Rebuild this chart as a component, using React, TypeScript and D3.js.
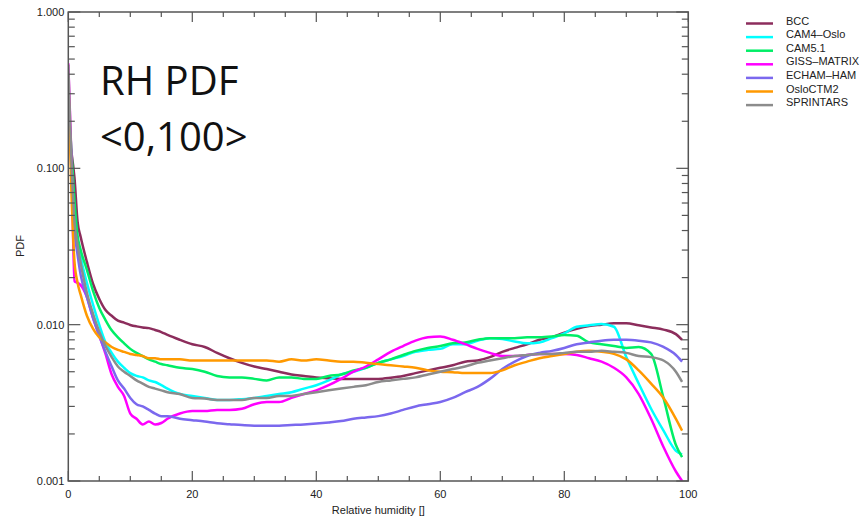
import React from "react";
import * as d3 from "d3";

// Relative humidity grid (x values)
const RH = [0, 0.5, 1, 1.5, 2, 3, 4, 5, 6, 7, 8, 9, 10, 11, 12, 13, 14, 15, 16, 18, 20, 22, 24, 26, 28, 30, 32, 34, 36, 38, 40, 42, 44, 46, 48, 50, 52, 54, 56, 58, 60, 62, 64, 66, 68, 70, 72, 74, 76, 78, 80, 82, 84, 86, 88, 90, 92, 94, 96, 98, 99];

const BCC = [0.165, 0.127, 0.0868, 0.0454, 0.0364, 0.0252, 0.0182, 0.0146, 0.0124, 0.0114, 0.0106, 0.0103, 0.00996, 0.00975, 0.0096, 0.0095, 0.00924, 0.00897, 0.0086, 0.008, 0.0075, 0.0072, 0.0066, 0.0061, 0.0057, 0.0054, 0.0052, 0.005, 0.0048, 0.0047, 0.0046, 0.00455, 0.0045, 0.00449, 0.00449, 0.0045, 0.00458, 0.0047, 0.0049, 0.0051, 0.0053, 0.0055, 0.0058, 0.0059, 0.0062, 0.0067, 0.0071, 0.0075, 0.008, 0.0083, 0.0089, 0.0094, 0.0098, 0.01, 0.0102, 0.0102, 0.0099, 0.0096, 0.0093, 0.0087, 0.008];
const CAM4_OSLO = [0.3, 0.113, 0.0454, 0.0348, 0.0271, 0.0185, 0.0134, 0.00996, 0.0077, 0.0066, 0.0058, 0.0053, 0.0049, 0.0047, 0.0046, 0.0044, 0.0043, 0.0041, 0.0039, 0.0036, 0.0035, 0.0034, 0.0033, 0.0033, 0.00334, 0.0034, 0.0035, 0.0036, 0.0037, 0.0039, 0.0041, 0.0044, 0.0048, 0.005, 0.0053, 0.0057, 0.006, 0.0063, 0.0067, 0.0069, 0.007, 0.0075, 0.0075, 0.0079, 0.0082, 0.0081, 0.0078, 0.0076, 0.0077, 0.0082, 0.0088, 0.0097, 0.0099, 0.0101, 0.0097, 0.0062, 0.0042, 0.0029, 0.0021, 0.00156, 0.00148];
const CAM5_1 = [0.27, 0.131, 0.0618, 0.0369, 0.03, 0.0224, 0.0164, 0.0128, 0.0107, 0.0092, 0.0083, 0.0076, 0.007, 0.0066, 0.0063, 0.006, 0.0058, 0.0056, 0.0055, 0.0053, 0.0052, 0.005, 0.0047, 0.0046, 0.0046, 0.0045, 0.0044, 0.0046, 0.0046, 0.0045, 0.0045, 0.0047, 0.0048, 0.0051, 0.0053, 0.0057, 0.006, 0.0064, 0.0068, 0.0071, 0.0073, 0.0076, 0.0077, 0.008, 0.0082, 0.0082, 0.0082, 0.0083, 0.0083, 0.0084, 0.0086, 0.0085, 0.0077, 0.0075, 0.0073, 0.0071, 0.0072, 0.0065, 0.0034, 0.0017, 0.00142];
const GISS_MATRIX = [0.47, 0.12, 0.019, 0.0185, 0.0179, 0.015, 0.011, 0.0085, 0.0065, 0.0048, 0.004, 0.0035, 0.0027, 0.0025, 0.0023, 0.0024, 0.0023, 0.00235, 0.0025, 0.0027, 0.0028, 0.0028, 0.00285, 0.00285, 0.0029, 0.0031, 0.0032, 0.0032, 0.0034, 0.0036, 0.0038, 0.0041, 0.0045, 0.005, 0.0054, 0.006, 0.0067, 0.0073, 0.0079, 0.0083, 0.0084, 0.008, 0.0075, 0.007, 0.0066, 0.0063, 0.0063, 0.0064, 0.0065, 0.0065, 0.0065, 0.0064, 0.0061, 0.0058, 0.0053, 0.0046, 0.0036, 0.0025, 0.00165, 0.00115, 0.001];
const ECHAM_HAM = [0.3, 0.098, 0.0404, 0.0279, 0.0208, 0.015, 0.011, 0.0085, 0.0067, 0.0054, 0.0044, 0.0039, 0.0034, 0.0031, 0.003, 0.00285, 0.0027, 0.0026, 0.0026, 0.0025, 0.00245, 0.0024, 0.00234, 0.00231, 0.00228, 0.00226, 0.00226, 0.00226, 0.00228, 0.0023, 0.00233, 0.00237, 0.00242, 0.0025, 0.00255, 0.0026, 0.0027, 0.00285, 0.003, 0.0031, 0.0032, 0.0034, 0.0037, 0.004, 0.0045, 0.0052, 0.0058, 0.0063, 0.0066, 0.0068, 0.0071, 0.0075, 0.0077, 0.0079, 0.008, 0.008, 0.0079, 0.0077, 0.0072, 0.0064, 0.0058];
const OSLOCTM2 = [0.37, 0.072, 0.0252, 0.0185, 0.0155, 0.0114, 0.0094, 0.0083, 0.0077, 0.0072, 0.0069, 0.0067, 0.0065, 0.0064, 0.0063, 0.0061, 0.0061, 0.006, 0.006, 0.006, 0.0059, 0.0059, 0.0059, 0.0059, 0.0059, 0.0059, 0.0059, 0.0058, 0.006, 0.0059, 0.006, 0.0059, 0.0058, 0.0058, 0.0057, 0.0056, 0.0055, 0.0054, 0.0053, 0.0051, 0.005, 0.00497, 0.0049, 0.0049, 0.0049, 0.0051, 0.0055, 0.0058, 0.0061, 0.0063, 0.0065, 0.0067, 0.0068, 0.0067, 0.0065, 0.006, 0.0051, 0.0042, 0.0034, 0.0025, 0.0021];
const SPRINTARS = [0.46, 0.113, 0.0454, 0.0324, 0.0248, 0.016, 0.0117, 0.009, 0.0073, 0.0062, 0.0054, 0.005, 0.0047, 0.0044, 0.0042, 0.004, 0.0039, 0.0038, 0.0037, 0.0036, 0.0034, 0.00337, 0.0033, 0.0033, 0.0033, 0.0034, 0.0034, 0.0035, 0.0035, 0.0036, 0.0037, 0.0038, 0.0039, 0.004, 0.0041, 0.0043, 0.0044, 0.0045, 0.0046, 0.0048, 0.005, 0.0052, 0.0054, 0.0057, 0.0059, 0.0061, 0.0063, 0.0064, 0.0065, 0.0065, 0.0066, 0.0067, 0.0067, 0.0068, 0.0067, 0.0066, 0.0063, 0.0062, 0.0059, 0.005, 0.0043];

const SERIES_NAMES = ["BCC", "CAM4–Oslo", "CAM5.1", "GISS–MATRIX", "ECHAM–HAM", "OsloCTM2", "SPRINTARS"];
const SERIES_VALUES = [BCC, CAM4_OSLO, CAM5_1, GISS_MATRIX, ECHAM_HAM, OSLOCTM2, SPRINTARS];
const SERIES_COLORS = ["#8c2d5c", "#00ffff", "#00ee66", "#ff00ff", "#7b68ee", "#ff9900", "#8c8c8c"];

const X_MAJOR = [0, 20, 40, 60, 80, 100];
const Y_MAJOR = [0.001, 0.01, 0.1, 1];

const W = 866, H = 527;
const L = 68.3, R = 688.3, T = 12, B = 481;

export default function App() {
  const x = d3.scaleLinear().domain([0, 100]).range([L, R]);
  const y = d3.scaleLog().domain([0.001, 1]).range([B, T]);
  const line = d3.line<number>().x((_, i) => x(RH[i])).y((v) => y(v)).curve(d3.curveMonotoneX);

  const xMinor = d3.range(0, 101, 5).filter((v) => v % 20 !== 0);
  const yMinor: number[] = [];
  [0.001, 0.01, 0.1].forEach((dec) => { for (let k = 2; k <= 9; k++) yMinor.push(dec * k); });
  const axisColor = "#555";
  const fmt = d3.format(".3f");
  const font = "'Liberation Sans', Arial, Helvetica, sans-serif";

  return (
    <svg width={W} height={H} style={{ position: "absolute", left: 0, top: 0, background: "#fff" }}>
      <defs>
        <clipPath id="plot"><rect x={L} y={T} width={R - L} height={B - T} /></clipPath>
      </defs>
      <g clipPath="url(#plot)">
        {SERIES_VALUES.map((vals, i) => (
          <path key={i} d={line(vals) || ""} fill="none" stroke={SERIES_COLORS[i]} strokeWidth={2.5} strokeLinejoin="round" />
        ))}
      </g>
      {/* frame */}
      <rect x={L} y={T} width={R - L} height={B - T} fill="none" stroke={axisColor} strokeWidth={1.5} />
      {/* x ticks */}
      {X_MAJOR.map((v) => (
        <g key={"xm" + v}>
          <line x1={x(v)} x2={x(v)} y1={B} y2={B - 10} stroke={axisColor} strokeWidth={1.2} />
          <line x1={x(v)} x2={x(v)} y1={T} y2={T + 10} stroke={axisColor} strokeWidth={1.2} />
          <text x={x(v)} y={B + 17} textAnchor="middle" fontSize={11} fontFamily={font} fill="#222">{v}</text>
        </g>
      ))}
      {xMinor.map((v) => (
        <g key={"xn" + v}>
          <line x1={x(v)} x2={x(v)} y1={B} y2={B - 5} stroke={axisColor} strokeWidth={1.2} />
          <line x1={x(v)} x2={x(v)} y1={T} y2={T + 5} stroke={axisColor} strokeWidth={1.2} />
        </g>
      ))}
      {/* y ticks */}
      {Y_MAJOR.map((v) => (
        <g key={"ym" + v}>
          <line x1={L} x2={L + 12} y1={y(v)} y2={y(v)} stroke={axisColor} strokeWidth={1.2} />
          <line x1={R} x2={R - 12} y1={y(v)} y2={y(v)} stroke={axisColor} strokeWidth={1.2} />
          <text x={L - 4} y={y(v)} dy="0.35em" textAnchor="end" fontSize={11} fontFamily={font} fill="#222">{fmt(v)}</text>
        </g>
      ))}
      {yMinor.map((v) => (
        <g key={"yn" + v}>
          <line x1={L} x2={L + 6.5} y1={y(v)} y2={y(v)} stroke={axisColor} strokeWidth={1.2} />
          <line x1={R} x2={R - 6.5} y1={y(v)} y2={y(v)} stroke={axisColor} strokeWidth={1.2} />
        </g>
      ))}
      <text x={(L + R) / 2} y={514} textAnchor="middle" fontSize={11} fontFamily={font} fill="#222">Relative humidity []</text>
      <text transform={`translate(24,246) rotate(-90)`} textAnchor="middle" fontSize={11} fontFamily={font} fill="#222">PDF</text>
      {/* annotation */}
      <text x={100} y={95} fontSize={40} fontFamily="'Open Sans', sans-serif" fill="#111">RH PDF</text>
      <text x={100} y={151} fontSize={40} fontFamily="'Open Sans', sans-serif" fill="#111">&lt;0,100&gt;</text>
      {/* legend */}
      {SERIES_NAMES.map((n, i) => {
        const ly = 23.5 + i * 13.6;
        return (
          <g key={n}>
            <line x1={746} x2={773} y1={ly} y2={ly} stroke={SERIES_COLORS[i]} strokeWidth={2.5} />
            <text x={786} y={ly + 1} fontSize={11} fontFamily={font} fill="#222">{n}</text>
          </g>
        );
      })}
    </svg>
  );
}
